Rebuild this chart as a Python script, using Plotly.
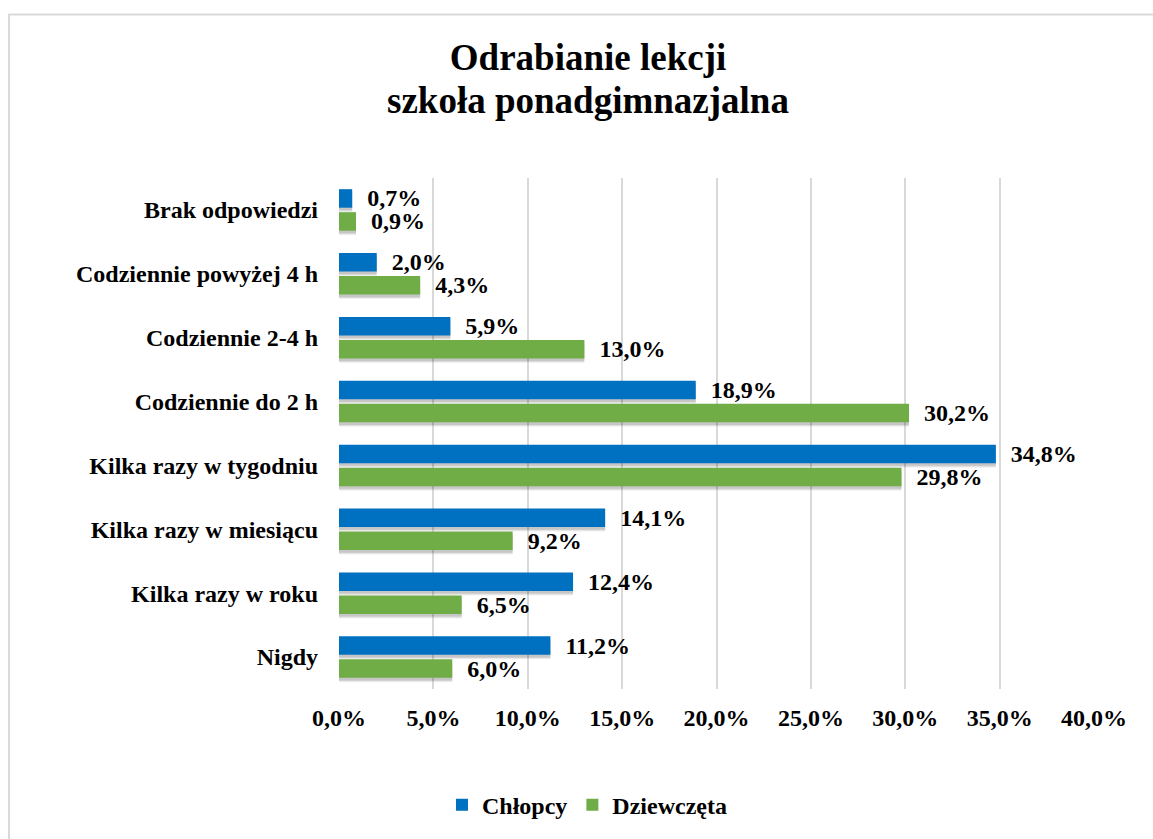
import plotly.graph_objects as go

categories = [
    "Nigdy",
    "Kilka razy w roku",
    "Kilka razy w miesiącu",
    "Kilka razy w tygodniu",
    "Codziennie do 2 h",
    "Codziennie 2-4 h",
    "Codziennie powyżej 4 h",
    "Brak odpowiedzi",
]
chlopcy = [11.2, 12.4, 14.1, 34.8, 18.9, 5.9, 2.0, 0.7]
dziewczeta = [6.0, 6.5, 9.2, 29.8, 30.2, 13.0, 4.3, 0.9]
x_ticks = [0, 5, 10, 15, 20, 25, 30, 35, 40]

FONT = "Liberation Serif, Times New Roman, serif"
BLUE = "#0070C0"
GREEN = "#70AD47"
LABEL = "&nbsp;&nbsp;<b>%{x:.1f}%</b>"

# bar placement inside each category slot (category units)
BAR_W = 0.29
BLUE_OFF = 0.035
GREEN_OFF = -0.325


def pct(v):
    return f"{v:.1f}%".replace(".", ",")


fig = go.Figure()

# soft drop shadow under every bar, built from a few translucent layers
for dy, alpha in [(-0.07, 0.06), (-0.055, 0.08), (-0.04, 0.10)]:
    for vals, off in [(chlopcy, BLUE_OFF), (dziewczeta, GREEN_OFF)]:
        fig.add_trace(go.Bar(
            y=categories, x=vals, orientation="h",
            offset=off + dy, width=BAR_W,
            marker=dict(color=f"rgba(0,0,0,{alpha})", line=dict(width=0)),
            hoverinfo="skip", showlegend=False,
        ))

fig.add_trace(go.Bar(
    y=categories, x=chlopcy, name="<b>Chłopcy</b>", orientation="h",
    offset=BLUE_OFF, width=BAR_W,
    marker=dict(color=BLUE, line=dict(width=0)),
    texttemplate=LABEL, textposition="outside", cliponaxis=False,
    constraintext="none",
    textfont=dict(family=FONT, size=24, color="black"),
    legendrank=1,
))
fig.add_trace(go.Bar(
    y=categories, x=dziewczeta, name="<b>Dziewczęta</b>", orientation="h",
    offset=GREEN_OFF, width=BAR_W,
    marker=dict(color=GREEN, line=dict(width=0)),
    texttemplate=LABEL, textposition="outside", cliponaxis=False,
    constraintext="none",
    textfont=dict(family=FONT, size=24, color="black"),
    legendrank=2,
))

fig.update_layout(
    width=1153, height=839,
    margin=dict(l=339, r=59, t=178, b=146),
    paper_bgcolor="white", plot_bgcolor="white",
    barmode="overlay",
    separators=", ",
    font=dict(family=FONT, size=24, color="black"),
    title=dict(
        text="<b>Odrabianie lekcji</b>",
        x=0.51, xanchor="center", y=1 - 57 / 839, yanchor="middle",
        font=dict(family=FONT, size=37, color="black"),
    ),
    annotations=[dict(
        text="<b>szkoła ponadgimnazjalna</b>", xref="paper", yref="paper",
        x=(588 - 339) / 755, y=(693 - 100) / 515, xanchor="center", yanchor="middle",
        showarrow=False, font=dict(family=FONT, size=37, color="black"),
    )],
    xaxis=dict(
        range=[0, 40], tickvals=x_ticks, ticktext=[f"<b>{pct(v)}</b>" for v in x_ticks],
        showgrid=True, gridcolor="#D9D9D9", gridwidth=1.5,
        zeroline=False, showline=False, ticks="", ticklen=0,
        ticklabelstandoff=12,
        tickfont=dict(family=FONT, size=24, color="black"),
    ),
    yaxis=dict(
        categoryorder="array", categoryarray=categories,
        tickvals=categories, ticktext=[f"<b>{c}</b>" for c in categories],
        range=[-0.5, 7.5],
        showgrid=False, zeroline=False, showline=False, ticks="",
        ticklabelstandoff=20,
        tickfont=dict(family=FONT, size=24, color="black"),
    ),
    legend=dict(
        orientation="h", x=(587 - 339) / 755, xanchor="center", y=(693 - 810) / 515,
        yanchor="middle",
        font=dict(family=FONT, size=24, color="black"),
        itemwidth=30, traceorder="normal",
    ),
    showlegend=True,
    shapes=[dict(
        type="rect", xref="paper", yref="paper",
        x0=-0.437, x1=1.09, y0=-0.31, y1=1.32,
        line=dict(color="#D9D9D9", width=2), fillcolor="rgba(0,0,0,0)", layer="below",
    )],
)

fig.write_html("out.html")
